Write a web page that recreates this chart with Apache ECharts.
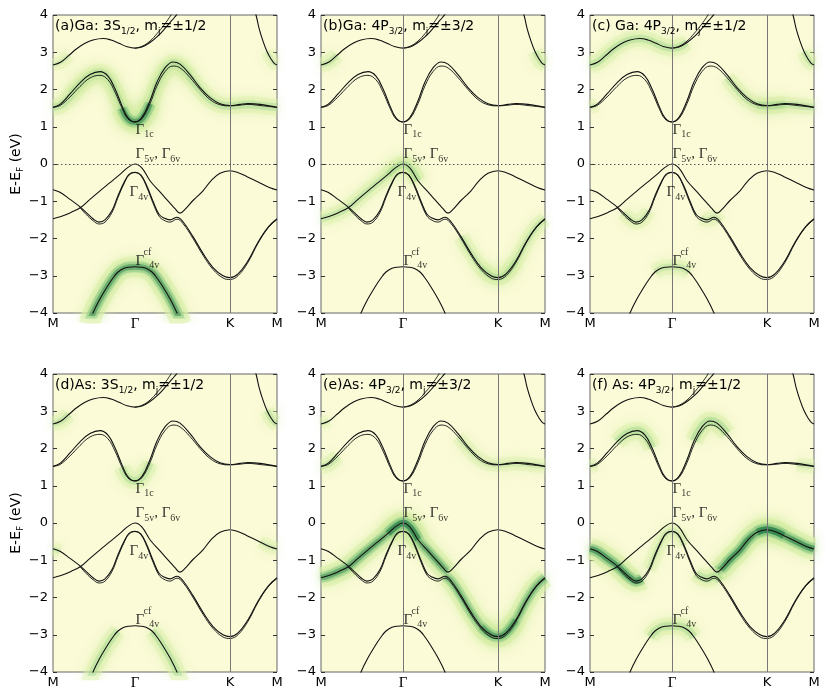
<!DOCTYPE html>
<html>
<head>
<meta charset="utf-8">
<script src="https://cdn.jsdelivr.net/npm/echarts@6/dist/echarts.min.js"></script>
<style>
  html, body { margin: 0; padding: 0; background: #fff; }
  #chart { width: 830px; height: 697px; }
</style>
</head>
<body>
<div id="chart"></div>
<script>
// k-path M - Γ - K - M (path length units)
var kTicks = [0, 82, 177, 224];
var kLabels = ['M', 'Γ', 'K', 'M'];
var yTicks = [-4, -3, -2, -1, 0, 1, 2, 3, 4];

// bands, [k, E(eV)]
var bandC3 = [[0,2.66],[8,2.74],[16,2.92],[24,3.1],[32,3.24],[40,3.33],[50,3.37],[58,3.33],[66,3.24],[74,3.15],[82,3.11],[89,3.14],[97,3.26],[105,3.44],[112,3.64],[119,3.86],[125,4.05],[129,4.2]];
var bandC3b = [[82,3.11],[89,3.16],[97,3.3],[104,3.5],[111,3.73],[118,4.0],[122,4.2]];
var bandC4 = [[199,4.3],[203,4.0],[206,3.65],[210,3.3],[214,3.02],[218,2.82],[221,2.71],[224,2.66]];
var bandCUp = [[0,1.52],[7,1.6],[17,1.88],[27,2.18],[37,2.4],[47,2.48],[55,2.36],[62,2.02],[69,1.56],[75,1.24],[82,1.13],[89,1.25],[97,1.7],[104,2.2],[112,2.58],[120,2.74],[127,2.68],[137,2.4],[147,2.05],[157,1.78],[167,1.62],[177,1.57],[187,1.6],[195,1.62],[207,1.6],[224,1.52]];
var bandCLo = [[0,1.52],[7,1.57],[17,1.8],[27,2.08],[37,2.31],[47,2.38],[55,2.26],[62,1.93],[69,1.5],[75,1.21],[82,1.13],[89,1.22],[97,1.62],[104,2.1],[112,2.48],[120,2.63],[127,2.58],[137,2.32],[147,2.0],[157,1.73],[167,1.59],[177,1.56],[187,1.58],[195,1.6],[207,1.57],[224,1.52]];
var bandVA = [[0,-1.47],[8,-1.41],[18,-1.3],[28,-1.16],[37,-0.95],[47,-0.72],[57,-0.5],[67,-0.28],[75,-0.09],[82,0],[89,-0.11],[97,-0.45],[107,-0.75],[117,-1.05],[122,-1.2],[127,-1.32],[132,-1.22],[140,-0.98],[150,-0.72],[158,-0.45],[167,-0.25],[177,-0.18],[186,-0.24],[194,-0.34],[207,-0.51],[217,-0.64],[224,-0.70]];
var bandVB = [[0,-0.69],[7,-0.76],[17,-0.95],[27,-1.15],[33,-1.3],[40,-1.47],[46,-1.56],[52,-1.5],[59,-1.25],[65,-0.85],[71,-0.5],[76,-0.28],[82,-0.22],[88,-0.3],[94,-0.6],[100,-1.0],[106,-1.35],[111,-1.45],[117,-1.5],[124,-1.43],[130,-1.55],[140,-1.95],[150,-2.4],[160,-2.78],[170,-3.0],[177,-3.05],[185,-2.95],[195,-2.6],[205,-2.1],[215,-1.7],[224,-1.47]];
var bandVB2 = [[27,-1.17],[33,-1.35],[40,-1.52],[46,-1.61],[52,-1.56],[59,-1.3],[65,-0.9],[71,-0.53],[76,-0.3],[82,-0.23],[88,-0.32],[94,-0.64],[100,-1.05],[106,-1.4],[111,-1.51],[117,-1.56],[124,-1.48],[130,-1.6],[140,-2.0],[150,-2.45],[160,-2.83],[170,-3.06],[177,-3.1],[185,-3.0],[195,-2.64],[205,-2.13],[215,-1.72],[224,-1.49]];
var bandCF = [[36,-4.3],[40,-4.0],[47,-3.62],[54,-3.3],[60,-3.06],[65,-2.9],[71,-2.8],[76,-2.77],[82,-2.76],[88,-2.77],[93,-2.8],[99,-2.9],[104,-3.06],[110,-3.3],[117,-3.62],[124,-4.0],[128,-4.3]];

var bands = { c3: bandC3, c3b: bandC3b, c4: bandC4, cUp: bandCUp, cLo: bandCLo, vA: bandVA, vB: bandVB, vB2: bandVB2, cf: bandCF };
var pairBands = ['c3b', 'cLo', 'vB2'];

// projected weight per panel: [band, kFrom, kTo, weight]
var glowA = [['cLo',0,224,0.4],['cUp',17,137,0.25],['cLo',69,97,0.8],['cf',36,128,0.75],['c3',0,16,0.12],['c4',214,224,0.12]];
var glowB = [['vA',0,97,0.3],['vA',67,97,0.35],['vB',140,224,0.28],['vB',160,195,0.3],['c3',0,16,0.28],['c4',214,224,0.28]];
var glowC = [['c3',0,97,0.38],['cLo',137,224,0.32],['cLo',167,195,0.4],['cf',65,99,0.28],['vB',33,59,0.2],['vB',111,130,0.2],['c4',214,224,0.28],['cUp',0,7,0.15]];
var glowD = [['c3',0,16,0.28],['c4',214,224,0.28],['cLo',69,97,0.38],['cf',36,65,0.38],['cf',99,128,0.38],['vB',0,7,0.18],['vA',207,224,0.14]];
var glowE = [['vA',0,127,0.75],['vA',67,97,0.9],['vB',124,224,0.68],['vB',160,195,0.78],['cLo',0,17,0.28],['cLo',137,224,0.18],['c3',0,8,0.1]];
var glowF = [['vB',0,52,0.82],['vA',127,224,0.85],['vA',167,194,0.95],['vB',106,130,0.42],['cUp',27,62,0.45],['cUp',104,137,0.5],['cf',60,104,0.42],['vB',59,94,0.2],['cLo',0,7,0.18],['cLo',207,224,0.18]];

// level annotations
var annK = [82, 82, 76, 82, 90];
var annE = [0.92, 0.27, -0.75, -2.6, -2.38];
var annText = ['{g|Γ}{s|1c}', '{g|Γ}{s|5v}{g|, Γ}{s|6v}', '{g|Γ}{s|4v}', '{g|Γ}{s|  4v}', '{c|cf}'];

var panels = [
  { title: '(a)Ga: 3S{s|1/2}, m{s|j}=±1/2', glow: glowA, gLine: false, zero: true, yName: true },
  { title: '(b)Ga: 4P{s|3/2}, m{s|j}=±3/2', glow: glowB, gLine: true, zero: true, yName: false },
  { title: '(c) Ga: 4P{s|3/2}, m{s|j}=±1/2', glow: glowC, gLine: true, zero: true, yName: false },
  { title: '(d)As: 3S{s|1/2}, m{s|j}=±1/2', glow: glowD, gLine: false, zero: false, yName: true },
  { title: '(e)As: 4P{s|3/2}, m{s|j}=±3/2', glow: glowE, gLine: true, zero: false, yName: false },
  { title: '(f) As: 4P{s|3/2}, m{s|j}=±1/2', glow: glowF, gLine: true, zero: false, yName: false }
];

var lefts = [53, 321, 590];
var tops = [15, 374];
var W = 224, H = 298;
var sans = 'DejaVu Sans';
var serif = 'Liberation Serif';

var grids = [], xAxes = [], yAxes = [], series = [], titles = [];

panels.forEach(function (p, i) {
  var gl = lefts[i % 3], gt = tops[Math.floor(i / 3)];
  grids.push({ left: gl, top: gt, width: W, height: H, show: true, backgroundColor: '#fbfbd8', borderColor: '#666', borderWidth: 1 });
  titles.push({
    text: p.title, left: gl + 2, top: gt + 1, padding: 0,
    textStyle: { fontFamily: sans, fontSize: 14, fontWeight: 'normal', color: '#000', lineHeight: 20,
      rich: { s: { fontFamily: sans, fontSize: 9, lineHeight: 9, verticalAlign: 'bottom' } } }
  });
  xAxes.push({
    gridIndex: i, type: 'value', min: 0, max: 224,
    axisLine: { show: false }, axisTick: { show: false }, splitLine: { show: false },
    axisLabel: {
      customValues: kTicks, margin: 4, fontFamily: sans, fontSize: 13, color: '#000',
      formatter: function (v) { var l = kLabels[kTicks.indexOf(v)]; return l === 'Γ' ? '{g|Γ}' : l; },
      rich: { g: { fontFamily: serif, fontSize: 15 } }
    }
  });
  yAxes.push({
    gridIndex: i, type: 'value', min: -4, max: 4, interval: 1,
    axisLine: { show: false }, splitLine: { show: false },
    axisTick: { inside: true, length: 4, lineStyle: { color: '#333' } },
    axisLabel: { fontFamily: sans, fontSize: 13, color: '#000', margin: 5,
      formatter: function (v) { return v < 0 ? '\u2212' + (-v) : String(v); } },
    name: p.yName ? 'E-E{s|F} (eV)' : '', nameLocation: 'middle', nameGap: 26, nameRotate: 90,
    nameTextStyle: { fontFamily: sans, fontSize: 14, color: '#000', lineHeight: 18,
      rich: { s: { fontFamily: sans, fontSize: 9, lineHeight: 9, verticalAlign: 'bottom' } } }
  });
  yAxes.push({
    gridIndex: i, type: 'value', min: -4, max: 4, interval: 1, position: 'right',
    axisLine: { show: false }, splitLine: { show: false }, axisLabel: { show: false },
    axisTick: { inside: true, length: 4, lineStyle: { color: '#333' } }
  });
  var yi = i * 2;

  // projected weight glow
  p.glow.forEach(function (g) {
    var pts = bands[g[0]].filter(function (d) { return d[0] >= g[1] && d[0] <= g[2]; });
    var w = g[3];
    var base = { type: 'line', xAxisIndex: i, yAxisIndex: yi, data: pts, symbol: 'none', smooth: 0.4, silent: true, z: 1 };
    series.push(Object.assign({}, base, { lineStyle: { width: 12 + 12 * w, cap: 'butt', join: 'round',
      color: 'rgba(224,242,172,' + (0.3 + 0.4 * w) + ')', shadowBlur: 14, shadowColor: 'rgba(214,238,162,0.9)' } }));
    series.push(Object.assign({}, base, { lineStyle: { width: 4 + 9 * w, cap: 'butt', join: 'round',
      color: 'rgba(140,205,130,' + (0.1 + 0.55 * w) + ')', shadowBlur: 8, shadowColor: 'rgba(140,205,130,0.6)' } }));
    if (w > 0.55) {
      series.push(Object.assign({}, base, { lineStyle: { width: 2 + 5 * w, cap: 'butt', join: 'round',
        color: 'rgba(20,110,60,' + (1.4 * (w - 0.5)) + ')', shadowBlur: 4, shadowColor: 'rgba(20,110,60,0.5)' } }));
    }
  });

  // bands
  Object.keys(bands).forEach(function (name, bi) {
    var s = {
      type: 'line', xAxisIndex: i, yAxisIndex: yi, data: bands[name], symbol: 'none', smooth: 0.4, silent: true, z: 3,
      lineStyle: { color: '#111', width: pairBands.indexOf(name) >= 0 ? 0.9 : 1.1 }
    };
    if (bi === 0) {
      var ml = [{ xAxis: kTicks[2] }];
      if (p.gLine) ml.push({ xAxis: kTicks[1] });
      var mlData = ml.map(function (m) { return Object.assign(m, { lineStyle: { color: '#777', width: 1, type: 'solid' } }); });
      if (p.zero) mlData.push({ yAxis: 0, lineStyle: { color: '#555', width: 1, type: [1.5, 2.5] } });
      s.markLine = { silent: true, symbol: ['none', 'none'], label: { show: false }, animation: false, data: mlData };
    }
    series.push(s);
  });

  // annotations
  series.push({
    type: 'scatter', xAxisIndex: i, yAxisIndex: yi, symbolSize: 1, silent: true, z: 5,
    itemStyle: { color: 'rgba(0,0,0,0)' },
    data: annK.map(function (k, ai) {
      return { value: [k, annE[ai]], label: { formatter: annText[ai] } };
    }),
    label: {
      show: true, position: 'right', distance: 0, color: '#000', lineHeight: 20,
      rich: {
        g: { fontFamily: serif, fontSize: 15, lineHeight: 20, color: '#000' },
        s: { fontFamily: serif, fontSize: 10, lineHeight: 10, verticalAlign: 'bottom', color: '#000' },
        c: { fontFamily: serif, fontSize: 10, color: '#000' }
      }
    }
  });
});

var chart = echarts.init(document.getElementById('chart'));
chart.setOption({
  animation: false,
  backgroundColor: '#fff',
  title: titles,
  grid: grids,
  xAxis: xAxes,
  yAxis: yAxes,
  series: series
});
window.onresize = function () { chart.resize(); };
</script>
</body>
</html>
